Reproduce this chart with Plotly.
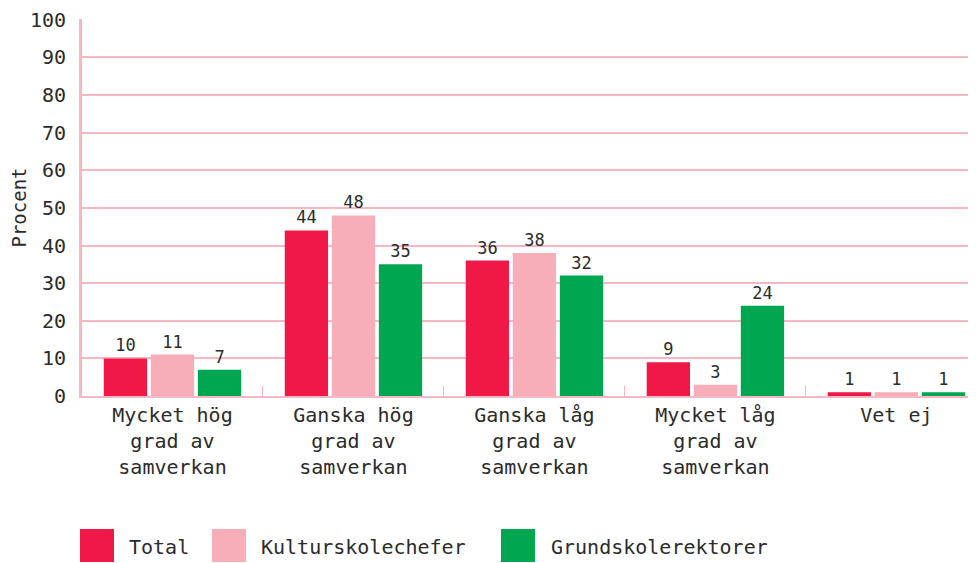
import plotly.graph_objects as go

categories = ["Mycket hög<br>grad av<br>samverkan", "Ganska hög<br>grad av<br>samverkan",
              "Ganska låg<br>grad av<br>samverkan", "Mycket låg<br>grad av<br>samverkan", "Vet ej"]
series_names = ["Total", "Kulturskolechefer", "Grundskolerektorer"]
total = [10, 44, 36, 9, 1]
kulturskolechefer = [11, 48, 38, 3, 1]
grundskolerektorer = [7, 35, 32, 24, 1]
colors = ["#EF1847", "#F7AEB9", "#00A650"]

FONT = "DejaVu Sans Mono"
TXT = "#2b2b2b"
PINK = "#F7B8C4"

# page has an 8px body margin, so the figure is sized to fit the 976x563 window
OFF = 8
W, H = 968, 555
ML, MR, MT, MB = 74, 0, 11, 167
PW, PH = W - ML - MR, H - MT - MB


def px_x(x):
    return (x - OFF - ML) / PW


def px_y(y):
    return (H - MB - (y - OFF)) / PH


fig = go.Figure()
for name, vals, col in zip(series_names, [total, kulturskolechefer, grundskolerektorer], colors):
    fig.add_trace(go.Bar(name=name, x=categories, y=vals, marker_color=col, marker_line_width=0,
                         text=vals, textposition="outside", cliponaxis=False,
                         textfont=dict(family=FONT, size=17, color=TXT), showlegend=False))

# legend drawn by hand to get the large square swatches
legend_items = [(80, 127), (212, 259), (501, 549)]
for (sx, tx), name, col in zip(legend_items, series_names, colors):
    fig.add_shape(type="rect", xref="paper", yref="paper",
                  x0=px_x(sx), x1=px_x(sx + 34), y0=px_y(562), y1=px_y(529),
                  fillcolor=col, line_width=0)
    fig.add_annotation(xref="paper", yref="paper", x=px_x(tx), y=px_y(547), text=name,
                       showarrow=False, xanchor="left", yanchor="middle",
                       font=dict(family=FONT, size=20, color=TXT))

fig.update_layout(
    width=W, height=H, margin=dict(l=ML, r=MR, t=MT, b=MB, autoexpand=False),
    paper_bgcolor="white", plot_bgcolor="white",
    barmode="group", bargap=0.22, bargroupgap=0.08,
    font=dict(family=FONT, color=TXT, size=20),
)
fig.update_xaxes(range=[-0.5, 4.44], showline=True, linecolor=PINK, linewidth=2,
                 ticks="inside", tickson="boundaries", ticklen=10, tickcolor=PINK, tickwidth=1,
                 tickfont=dict(family=FONT, size=20, color=TXT), showgrid=False, automargin=False)
fig.update_yaxes(range=[0, 100.2], dtick=10, showline=True, linecolor=PINK, linewidth=3,
                 gridcolor=PINK, gridwidth=1.5, zeroline=False, ticks="",
                 ticklabelstandoff=9, automargin=False, ticklabeloverflow="allow",
                 tickfont=dict(family=FONT, size=20, color=TXT),
                 title=dict(text="Procent", font=dict(family=FONT, size=19, color=TXT), standoff=8))

fig.write_html("out.html")
